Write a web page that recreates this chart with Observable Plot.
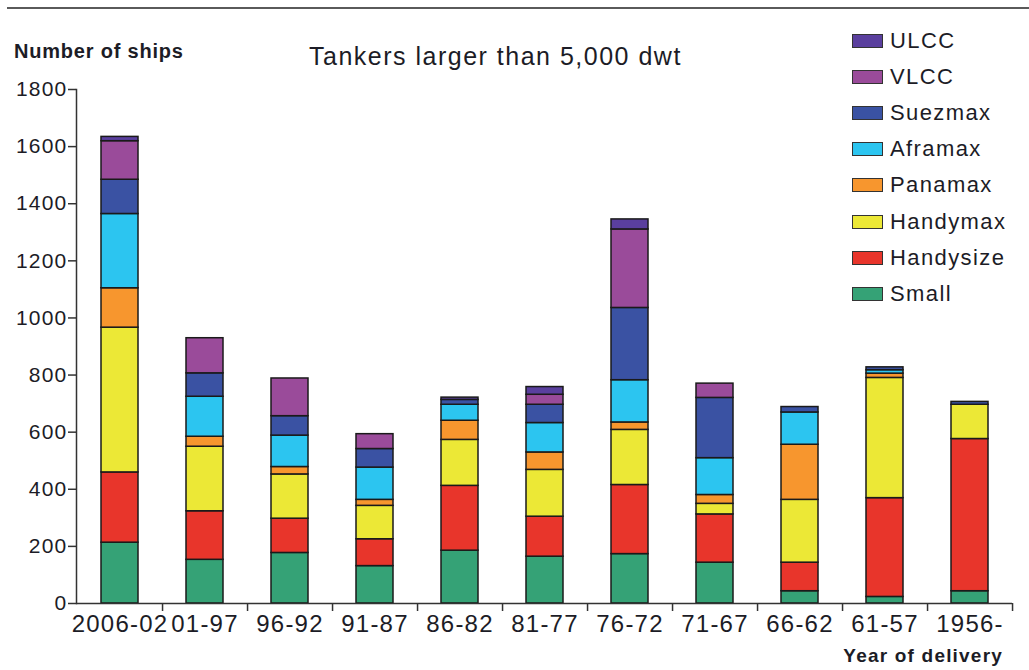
<!DOCTYPE html>
<html>
<head>
<meta charset="utf-8">
<script src="https://cdn.jsdelivr.net/npm/d3@7"></script>
<script src="https://cdn.jsdelivr.net/npm/@observablehq/plot@0.6"></script>
<style>
  body { margin: 0; background: #fff; }
  #wrap { position: relative; width: 1029px; height: 670px; overflow: hidden;
          font-family: "Liberation Sans", Arial, Helvetica, sans-serif; color: #1c1c26; }
  #chart { position: absolute; left: 0; top: 0; }
  .abs { position: absolute; line-height: 1; white-space: nowrap; }
  #topline { position: absolute; left: 7px; top: 7px; width: 1022px; height: 2px; background: #5a5a5a; }
  #title { left: 309px; top: 44px; font-size: 25px; letter-spacing: 1.5px; }
  #ylabel { left: 14px; top: 41px; font-size: 20px; font-weight: bold; letter-spacing: 0.8px; }
  #xlabel { right: 26px; top: 646px; font-size: 19px; font-weight: bold; letter-spacing: 1.2px; }
  #legend { position: absolute; left: 852px; top: 23px; }
  .row { position: absolute; left: 0; height: 36px; display: flex; align-items: center; white-space: nowrap; }
  .sw { width: 29px; height: 12px; border: 1.5px solid #333; margin-right: 7px; }
  .lab { font-size: 22px; letter-spacing: 1.4px; line-height: 1; }
</style>
</head>
<body>
<div id="wrap">
  <div id="chart"></div>
  <div id="topline"></div>
  <div id="title" class="abs">Tankers larger than 5,000 dwt</div>
  <div id="ylabel" class="abs">Number of ships</div>
  <div id="xlabel" class="abs">Year of delivery</div>
  <div id="legend"></div>
</div>
<script>
// ---- Data ----
const categories = ["2006-02", "01-97", "96-92", "91-87", "86-82", "81-77", "76-72", "71-67", "66-62", "61-57", "1956-"];
const types = ["ULCC", "VLCC", "Suezmax", "Aframax", "Panamax", "Handymax", "Handysize", "Small"]; // legend order
const colors = ["#5a3f9e", "#9a4b9a", "#3a52a3", "#2cc5f0", "#f7962e", "#ece836", "#e8352b", "#35a276"];
const stackOrder = ["Small", "Handysize", "Handymax", "Panamax", "Aframax", "Suezmax", "VLCC", "ULCC"]; // bottom -> top

const small     = [213, 153, 177, 131, 185, 164, 173, 143,  43,  23,  43];
const handysize = [246, 170, 120,  94, 227, 140, 242, 169, 100, 346, 533];
const handymax  = [507, 226, 155, 117, 161, 164, 193,  37, 220, 421, 120];
const panamax   = [138,  35,  26,  21,  67,  61,  26,  31, 193,  15,   0];
const aframax   = [260, 140, 110, 113,  56, 103, 148, 129, 113,  12,   0];
const suezmax   = [120,  82,  68,  65,  17,  64, 253, 211,  19,  10,  10];
const vlcc      = [135, 123, 132,  52,   0,  35, 275,  50,   0,   0,   0];
const ulcc      = [ 15,   0,   0,   0,   8,  27,  35,   0,   0,   0,   0];

const yTicks = [0, 200, 400, 600, 800, 1000, 1200, 1400, 1600, 1800];

// ---- Build table ----
const series = {Small: small, Handysize: handysize, Handymax: handymax, Panamax: panamax,
                Aframax: aframax, Suezmax: suezmax, VLCC: vlcc, ULCC: ulcc};
const rows = [];
categories.forEach((c, i) => {
  stackOrder.forEach(t => {
    const v = series[t][i];
    if (v > 0) rows.push({cat: c, type: t, value: v});
  });
});

const W = 1029, H = 670, mL = 76, mR = 17, mT = 89, mB = 67;
const pInner = 0.565;
const step = (W - mL - mR) / categories.length;

const chart = Plot.plot({
  width: W, height: H,
  marginLeft: mL, marginRight: mR, marginTop: mT, marginBottom: mB,
  style: {fontFamily: '"Liberation Sans", Arial, sans-serif', fontSize: "20px",
          color: "#1c1c26", letterSpacing: "1.2px", background: "transparent"},
  x: {domain: categories, paddingInner: pInner, paddingOuter: pInner / 2, axis: null},
  y: {domain: [0, 1800], axis: null},
  color: {domain: types, range: colors},
  marks: [
    Plot.barY(rows, Plot.stackY({x: "cat", y: "value", fill: "type", order: stackOrder,
                                 stroke: "#1a1a1a", strokeWidth: 1.5})),
    Plot.axisY({ticks: yTicks, tickFormat: d => String(d), tickSize: 8, tickPadding: 1,
                fontSize: 21, label: null, stroke: "#333", strokeWidth: 1.5}),
    Plot.axisX({tickSize: 8, tickFormat: () => "", dx: step / 2, label: null,
                stroke: "#333", strokeWidth: 1.5}),
    Plot.axisX({tickSize: 0, tickPadding: 11, fontSize: 24, label: null}),
    Plot.frame({anchor: "left", stroke: "#333", strokeWidth: 1.5}),
    Plot.ruleY([0], {stroke: "#333", strokeWidth: 1.5})
  ]
});
document.getElementById("chart").appendChild(chart);

// ---- Legend ----
const legend = document.getElementById("legend");
types.forEach((t, i) => {
  const row = document.createElement("div");
  row.className = "row";
  row.style.top = (i * 36.1) + "px";
  const sw = document.createElement("div");
  sw.className = "sw";
  sw.style.background = colors[i];
  const lab = document.createElement("span");
  lab.className = "lab";
  lab.textContent = t;
  row.appendChild(sw);
  row.appendChild(lab);
  legend.appendChild(row);
});
</script>
</body>
</html>
